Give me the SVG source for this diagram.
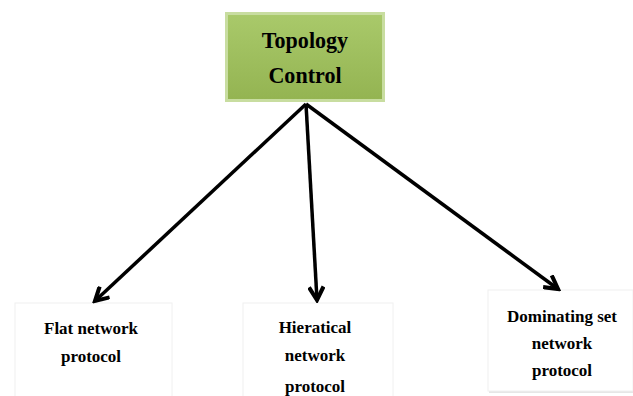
<svg xmlns="http://www.w3.org/2000/svg" width="633" height="396" viewBox="0 0 633 396">
<defs>
<marker id="ah" viewBox="0 0 12 12" refX="10" refY="6" markerWidth="5" markerHeight="5" orient="auto" markerUnits="strokeWidth">
<path d="M1,1 L10,6 L1,11" fill="none" stroke="#000" stroke-width="2.8" stroke-linejoin="miter"/>
</marker>
<linearGradient id="bev" x1="0" y1="0" x2="0" y2="1">
<stop offset="0" stop-color="#a9c96a"/>
<stop offset="1" stop-color="#94b452"/>
</linearGradient>
</defs>
<style>
.t{font-family:"Liberation Serif","DejaVu Serif",serif;fill:#000;text-anchor:middle}
.h{font-size:24px;font-weight:bold}
.l{font-size:17px;font-weight:bold}
.lb{fill:#fff;stroke:#f0f0f0;stroke-width:1}
.c{stroke:#000;stroke-width:3.5;fill:none;marker-end:url(#ah)}
</style>
<rect width="633" height="396" fill="#fff"/>
<g id="topology-control">
<rect x="225" y="12" width="160" height="90" fill="#c8dda0"/>
<rect x="228" y="15" width="154" height="84" fill="url(#bev)"/>
<text class="t h" x="305" y="48" transform="translate(305 0) scale(0.92 1) translate(-305 0)">Topology</text>
<text class="t h" x="305" y="83" transform="translate(305 0) scale(0.92 1) translate(-305 0)">Control</text>
</g>
<g id="flat">
<rect class="lb" x="15" y="303" width="157" height="95"/>
<text class="t l" x="91" y="334">Flat network</text>
<text class="t l" x="91" y="362">protocol</text>
</g>
<g id="hieratical">
<rect class="lb" x="243" y="303" width="150" height="95"/>
<text class="t l" x="315" y="333">Hieratical</text>
<text class="t l" x="315" y="361">network</text>
<text class="t l" x="315" y="392">protocol</text>
</g>
<g id="dominating">
<rect x="489" y="292" width="144" height="101" fill="#e6e6e6"/>
<rect class="lb" x="488" y="290" width="145" height="101"/>
<text class="t l" x="562" y="322">Dominating set</text>
<text class="t l" x="562" y="349">network</text>
<text class="t l" x="562" y="376">protocol</text>
</g>
<g id="connectors">
<line class="c" x1="306" y1="104" x2="95" y2="301"/>
<line class="c" x1="306" y1="104" x2="317" y2="300"/>
<line class="c" x1="306" y1="104" x2="558" y2="289"/>
</g>
</svg>
